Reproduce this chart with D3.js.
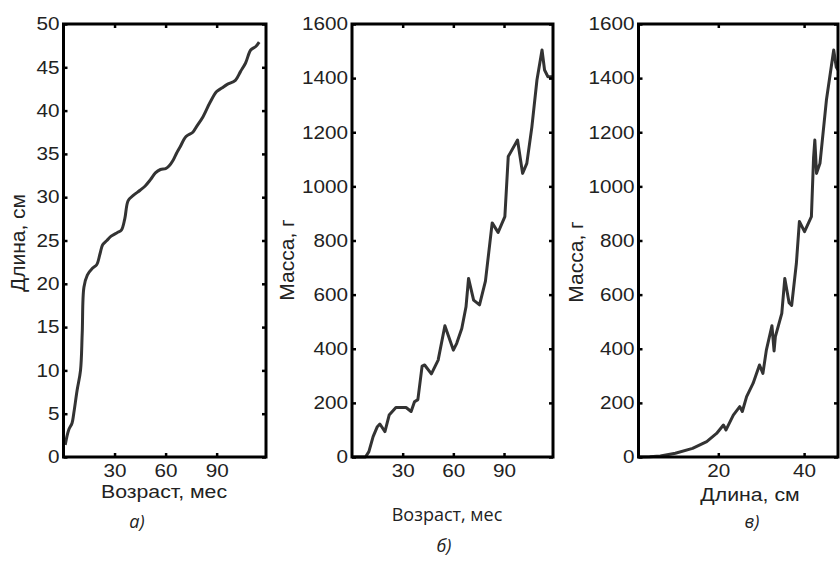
<!DOCTYPE html>
<html lang="ru">
<head>
<meta charset="utf-8">
<title>Рост</title>
<script src="https://cdn.jsdelivr.net/npm/d3@7"></script>
<style>
  body { margin: 0; background: #fff; }
  .tick text { font-family: "Liberation Sans", Arial, sans-serif; font-size: 18px; fill: #222; }
  .lbl { font-family: "Liberation Sans", Arial, sans-serif; font-size: 18.5px; fill: #222; }
  .ylbl { font-family: "Liberation Sans", Arial, sans-serif; font-size: 21px; fill: #222; }
  .cap { font-family: "Open Sans", sans-serif; font-size: 18px; fill: #222; }
</style>
</head>
<body>
<div id="chart"></div>
<script>
// а) длина от возраста
var ageA = [1, 3, 5, 6, 8, 10, 11, 12, 14, 17, 19.5, 21.5, 23, 25.5, 28, 31.5, 34, 36, 38, 41, 45, 48, 51, 54, 57, 60, 62, 64.5, 66.5, 68.5, 72, 76, 78, 82, 86, 90, 93, 96, 101, 104, 107, 110, 113, 115];
var lenA = [1.4, 3.1, 3.9, 5.0, 7.7, 10, 14.3, 19.6, 21, 21.8, 22.2, 23.5, 24.5, 25.0, 25.5, 25.9, 26.2, 27.5, 29.6, 30.2, 30.8, 31.3, 32.0, 32.8, 33.2, 33.3, 33.6, 34.3, 35.1, 35.8, 37.0, 37.5, 38.1, 39.3, 40.9, 42.2, 42.6, 43.0, 43.5, 44.5, 45.5, 47.0, 47.4, 47.9];

// б) масса от возраста
var ageB = [0, 4, 8, 10, 12.5, 15, 16.5, 19.5, 22, 26, 32, 35, 37, 39, 41.5, 43, 47, 51, 55, 60, 62, 65, 67.5, 69, 72, 75.5, 79, 83, 86.5, 90.5, 92.5, 98, 101, 103.5, 106.5, 109.5, 112.5, 114, 116, 119];
var massB = [0, 0, 0, 20, 75, 112, 122, 94, 155, 183, 183, 168, 204, 212, 336, 340, 307, 358, 485, 395, 420, 475, 555, 660, 580, 562, 650, 865, 830, 888, 1110, 1171, 1048, 1085, 1220, 1393, 1504, 1430, 1405, 1405];

// в) масса от длины
var lenC = [1.4, 4, 6.5, 10, 14, 17.3, 19.6, 21.2, 21.8, 23.5, 25, 25.6, 26.6, 28.1, 29.6, 30.4, 31.2, 32.5, 33.0, 33.3, 34.8, 35.5, 36.5, 37.1, 38.2, 38.9, 40.1, 41.7, 42.2, 42.5, 42.9, 43.7, 45.2, 46.9, 47.5, 47.9];
var massC = [0, 1, 4, 14, 32, 57, 87, 118, 100, 155, 186, 168, 223, 272, 340, 309, 395, 485, 392, 445, 531, 660, 570, 560, 716, 870, 833, 888, 1104, 1171, 1048, 1085, 1319, 1504, 1440, 1430];

var ticksAge = [30, 60, 90];
var ticksLen = [0, 5, 10, 15, 20, 25, 30, 35, 40, 45, 50];
var ticksMass = [0, 200, 400, 600, 800, 1000, 1200, 1400, 1600];
var ticksLenX = [20, 40];

var svg = d3.select("#chart").append("svg")
    .attr("width", 840)
    .attr("height", 562);

var sx = 1.15; // текст в скане растянут по горизонтали
var yTop = 24, yBottom = 457;

function stretch(sel) {
    sel.selectAll(".tick text").each(function() {
        var t = d3.select(this);
        t.attr("x", (+t.attr("x") || 0) / sx).attr("transform", "scale(" + sx + ",1)");
    });
}

function panel(p) {
    var x = d3.scaleLinear().domain(p.xDomain).range([p.left, p.right]);
    var y = d3.scaleLinear().domain(p.yDomain).range([yBottom, yTop]);
    var g = svg.append("g");

    var line = d3.line()
        .x(function(d) { return x(d[0]); })
        .y(function(d) { return y(d[1]); })
        .curve(p.curve);

    g.append("path")
        .datum(d3.zip(p.xs, p.ys))
        .attr("fill", "none")
        .attr("stroke", "#333")
        .attr("stroke-width", 3)
        .attr("stroke-linejoin", "round")
        .attr("d", line);

    var fmt = d3.format("d");
    var xb = g.append("g").attr("transform", "translate(0," + yBottom + ")")
        .call(d3.axisBottom(x).tickValues(p.xTicks).tickSize(-4).tickPadding(7).tickFormat(fmt));
    var xt = g.append("g").attr("transform", "translate(0," + yTop + ")")
        .call(d3.axisTop(x).tickValues(p.xTicks).tickSize(-4).tickFormat(""));
    var yl = g.append("g").attr("transform", "translate(" + p.left + ",0)")
        .call(d3.axisLeft(y).tickValues(p.yTicks).tickSize(-4).tickPadding(4).tickFormat(fmt));
    var yr = g.append("g").attr("transform", "translate(" + p.right + ",0)")
        .call(d3.axisRight(y).tickValues(p.yTicks).tickSize(-4).tickFormat(""));

    [xb, xt, yl, yr].forEach(function(a) {
        a.select(".domain").remove();
        a.selectAll(".tick line").attr("stroke", "#000").attr("stroke-width", 2.5);
    });
    stretch(xb);
    stretch(yl);

    g.append("rect")
        .attr("x", p.left).attr("y", yTop)
        .attr("width", p.right - p.left).attr("height", yBottom - yTop)
        .attr("fill", "none").attr("stroke", "#000").attr("stroke-width", 3);

    g.append("text").attr("class", "ylbl")
        .attr("transform", "translate(" + p.yLabelPos[0] + "," + p.yLabelPos[1] + ") rotate(-90)")
        .attr("text-anchor", "middle").attr("dy", "0.35em")
        .text(p.yLabel);
}

panel({ left: 63.5, right: 266, xDomain: [0, 119], yDomain: [0, 50],
        xs: ageA, ys: lenA, xTicks: ticksAge, yTicks: ticksLen,
        curve: d3.curveCatmullRom, yLabel: "Длина, см", yLabelPos: [18, 243] });
panel({ left: 352, right: 553, xDomain: [0, 119], yDomain: [0, 1600],
        xs: ageB, ys: massB, xTicks: ticksAge, yTicks: ticksMass,
        curve: d3.curveLinear, yLabel: "Масса, г", yLabelPos: [287, 260] });
panel({ left: 638.5, right: 838, xDomain: [1.4, 47.9], yDomain: [0, 1600],
        xs: lenC, ys: massC, xTicks: ticksLenX, yTicks: ticksMass,
        curve: d3.curveLinear, yLabel: "Масса, г", yLabelPos: [576, 262] });

// подписи осей x и панелей
function label(cls, x, y, txt, st) {
    var t = svg.append("text").attr("class", cls)
        .attr("text-anchor", "middle").attr("dy", "0.35em")
        .text(txt);
    if (st) {
        t.attr("x", x / sx).attr("y", y).attr("transform", "scale(" + sx + ",1)");
    } else {
        t.attr("x", x).attr("y", y);
    }
    return t;
}
label("lbl", 164, 492, "Возраст, мес", true);
label("lbl", 750, 495, "Длина, см", true);
label("cap", 447, 515, "Возраст, мес", false);
label("cap", 137, 522, "а)", false).style("font-style", "italic");
label("cap", 444, 546, "б)", false).style("font-style", "italic");
label("cap", 752, 522, "в)", false).style("font-style", "italic");
</script>
</body>
</html>
